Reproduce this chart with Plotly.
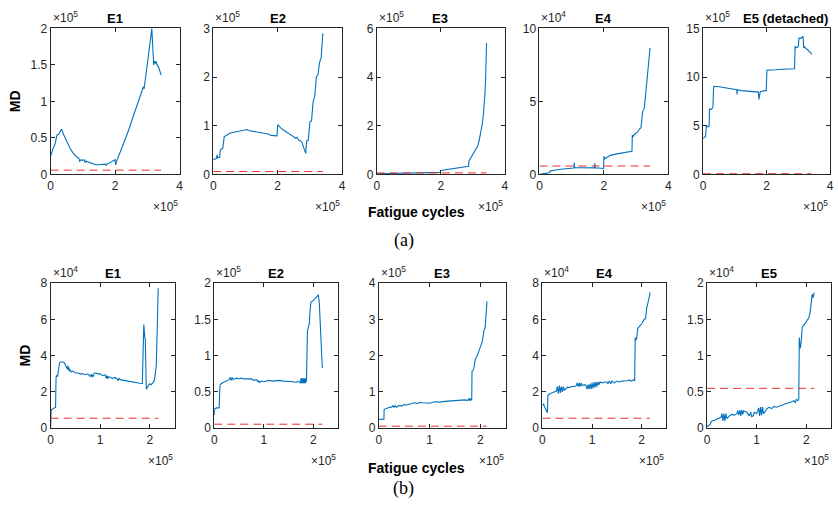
import plotly.graph_objects as go

W, H = 838, 513

# ---------------- data (x in units of 1e5 cycles, y in units of the panel exponent) ----------------
# Row (a)
a1_x = [0, 0.02, 0.05, 0.1, 0.13, 0.17, 0.2, 0.25, 0.3, 0.34, 0.4, 0.5, 0.6, 0.7, 0.8, 0.88, 0.9, 0.95, 1.0, 1.05, 1.07, 1.1, 1.2,
        1.3, 1.4, 1.5, 1.6, 1.7, 1.73, 1.75, 1.8, 1.9, 2.0, 2.02, 2.05, 2.2, 2.4, 2.6, 2.8, 2.85, 2.88, 2.9, 3.0, 3.05,
        3.1, 3.14, 3.17, 3.2, 3.22, 3.25, 3.28, 3.3, 3.35, 3.4, 3.43]
a1_y = [0.25, 0.28, 0.3, 0.38, 0.4, 0.52, 0.54, 0.55, 0.6, 0.62, 0.55, 0.45, 0.36, 0.29, 0.24, 0.22, 0.18, 0.2, 0.19, 0.2, 0.16, 0.18, 0.16,
        0.14, 0.13, 0.13, 0.13, 0.14, 0.12, 0.14, 0.15, 0.18, 0.2, 0.13, 0.18, 0.35, 0.58, 0.84, 1.1, 1.16, 1.2, 1.17, 1.5, 1.62,
        1.85, 2.0, 1.8, 1.5, 1.55, 1.52, 1.55, 1.5, 1.47, 1.4, 1.36]
a1_thr = 0.057

a2_x = [0, 0.05, 0.1, 0.12, 0.13, 0.14, 0.2, 0.22, 0.28, 0.3, 0.34, 0.4, 0.5, 0.6, 0.7, 0.8, 0.9, 1.0, 1.05, 1.1, 1.2, 1.4,
        1.6, 1.7, 1.8, 1.98, 2.0, 2.05, 2.1, 2.2, 2.3, 2.4, 2.5, 2.55, 2.6, 2.65, 2.7, 2.75, 2.8, 2.87, 2.9, 2.95, 3.0,
        3.05, 3.1, 3.15, 3.2, 3.25, 3.3, 3.35, 3.4]
a2_y = [0.3, 0.32, 0.33, 0.4, 0.34, 0.34, 0.35, 0.5, 0.53, 0.55, 0.77, 0.8, 0.84, 0.86, 0.87, 0.88, 0.89, 0.9, 0.92, 0.9, 0.89, 0.87,
        0.85, 0.83, 0.8, 0.79, 1.02, 0.98, 0.95, 0.9, 0.86, 0.82, 0.77, 0.74, 0.76, 0.7, 0.69, 0.66, 0.58, 0.43, 0.69, 0.7, 1.08,
        1.1, 1.5, 1.6, 2.0, 2.05, 2.3, 2.4, 2.9]
a2_thr = 0.057

a3_x = [0, 0.5, 1.0, 1.5, 1.98, 2.0, 2.3, 2.6, 2.87, 2.88, 2.95, 3.0, 3.1, 3.15, 3.2, 3.25, 3.3, 3.33, 3.36, 3.38, 3.4, 3.42, 3.43]
a3_y = [0.02, 0.04, 0.05, 0.07, 0.08, 0.16, 0.22, 0.28, 0.33, 0.55, 0.7, 0.8, 1.0, 1.15, 1.4, 1.7, 2.1, 2.45, 2.9, 3.3, 3.9, 4.7, 5.4]
a3_thr = 0.057

a4_x = [0, 0.25, 0.3, 0.33, 0.5, 0.8, 1.0, 1.07, 1.08, 1.09, 1.2, 1.4, 1.6, 1.71, 1.72, 1.73, 1.9, 1.99, 2.0, 2.02, 2.05, 2.2,
        2.4, 2.6, 2.85, 2.87, 2.88, 2.9, 2.95, 3.0, 3.05, 3.1, 3.15, 3.2, 3.25, 3.3, 3.35, 3.4, 3.43]
a4_y = [0, 0.05, 0.1, 0.22, 0.3, 0.38, 0.42, 0.43, 0.8, 0.45, 0.45, 0.46, 0.45, 0.44, 0.75, 0.45, 0.42, 0.4, 1.25, 1.05, 1.1, 1.3,
        1.4, 1.48, 1.57, 1.57, 2.7, 2.55, 2.75, 2.8, 2.9, 3.1, 3.2, 4.3, 4.5, 5.6, 6.7, 7.6, 8.66]
a4_thr = 0.57

a5_x = [0, 0.05, 0.08, 0.1, 0.18, 0.19, 0.2, 0.27, 0.28, 0.29, 0.31, 0.33, 0.34, 0.5, 0.7, 0.9, 1.0, 1.06, 1.07, 1.08, 1.2, 1.4,
        1.6, 1.74, 1.76, 1.78, 1.8, 1.95, 1.99, 2.01, 2.05, 2.3, 2.5, 2.7, 2.88, 2.9, 2.92, 3.0, 3.02, 3.1, 3.13, 3.15, 3.17,
        3.2, 3.25, 3.3, 3.35, 3.4, 3.41]
a5_y = [3.7, 3.8, 3.9, 4.9, 4.9, 5.0, 6.7, 6.7, 6.8, 6.8, 6.9, 8.9, 9.05, 9.0, 8.9, 8.8, 8.75, 8.7, 8.2, 8.7, 8.6, 8.55,
        8.5, 8.45, 7.7, 8.45, 8.5, 8.6, 8.6, 10.7, 10.7, 10.75, 10.8, 10.8, 10.85, 13.2, 13.0, 13.1, 14.0, 14.0, 14.1, 14.2, 13.0,
        13.1, 12.9, 12.8, 12.6, 12.5, 12.3]
a5_thr = 0.057

# Row (b)
b1_x = [0, 0.003, 0.01, 0.05, 0.1, 0.11, 0.12, 0.14, 0.16, 0.18, 0.2, 0.25, 0.28, 0.3, 0.32, 0.34, 0.35, 0.36, 0.37, 0.38,
        0.4, 0.42, 0.45, 0.5, 0.55, 0.6, 0.65, 0.7, 0.75, 0.8, 0.82, 0.84, 0.85, 0.86, 0.88, 0.9, 0.95, 1.0, 1.05, 1.1, 1.12,
        1.14, 1.15, 1.16, 1.2, 1.25, 1.3, 1.35, 1.36, 1.38, 1.4, 1.45, 1.5, 1.55, 1.6, 1.65, 1.7, 1.75, 1.8, 1.85, 1.87, 1.88,
        1.9, 1.91, 1.93, 1.95, 1.97, 2.0, 2.03, 2.06, 2.09, 2.11, 2.13, 2.15, 2.17]
b1_y = [0, 0.95, 1.0, 1.08, 1.15, 2.8, 2.9, 2.85, 3.3, 3.6, 3.65, 3.65, 3.6, 3.5, 3.4, 3.25, 3.45, 3.2, 3.35, 3.15,
        3.2, 3.1, 3.15, 3.05, 3.05, 3.0, 3.0, 2.95, 3.0, 2.85, 2.98, 2.82, 2.95, 2.85, 3.05, 3.05, 3.0, 3.0, 2.9, 2.95, 2.75,
        2.9, 2.72, 2.85, 2.8, 2.75, 2.8, 2.7, 2.62, 2.75, 2.68, 2.65, 2.62, 2.6, 2.6, 2.55, 2.52, 2.5, 2.48, 2.46, 4.0, 5.72,
        5.0, 4.9, 2.15, 2.3, 2.35, 2.45, 2.4, 2.5, 2.6, 3.0, 3.4, 5.4, 7.73]
b1_thr = 0.55

b2_x = [0, 0.005, 0.01, 0.05, 0.1, 0.11, 0.12, 0.15, 0.2, 0.25, 0.3, 0.32, 0.34, 0.36, 0.38, 0.4, 0.45, 0.5, 0.55, 0.6,
        0.65, 0.7, 0.75, 0.8, 0.85, 0.88, 0.9, 0.92, 0.95, 1.0, 1.1, 1.2, 1.3, 1.4, 1.5, 1.6, 1.65, 1.7, 1.74, 1.75, 1.76,
        1.77, 1.78, 1.79, 1.8, 1.81, 1.82, 1.83, 1.84, 1.85, 1.86, 1.87, 1.88, 1.9, 1.92, 1.93, 1.95, 2.0, 2.05, 2.08, 2.1,
        2.12, 2.14, 2.16, 2.17, 2.18]
b2_y = [0.18, 0.26, 0.27, 0.28, 0.28, 0.5, 0.6, 0.62, 0.64, 0.66, 0.67, 0.7, 0.66, 0.7, 0.67, 0.68, 0.69, 0.68, 0.69, 0.68,
        0.68, 0.67, 0.68, 0.66, 0.67, 0.64, 0.66, 0.63, 0.65, 0.64, 0.66, 0.65, 0.66, 0.65, 0.65, 0.64, 0.63, 0.65, 0.62, 0.69,
        0.62, 0.69, 0.62, 0.69, 0.62, 0.69, 0.62, 0.69, 0.62, 0.68, 0.64, 1.2, 1.34, 1.4, 1.45, 1.6, 1.74, 1.76, 1.8, 1.82, 1.84,
        1.72, 1.45, 1.2, 1.0, 0.83]
b2_thr = 0.055

b3_x = [0, 0.05, 0.1, 0.105, 0.15, 0.2, 0.25, 0.28, 0.3, 0.32, 0.35, 0.4, 0.45, 0.5, 0.55, 0.6, 0.65, 0.7, 0.75, 0.8, 0.85,
        0.9, 0.95, 1.0, 1.1, 1.2, 1.3, 1.4, 1.5, 1.6, 1.7, 1.75, 1.77, 1.79, 1.8, 1.81, 1.83, 1.835, 1.85, 1.87, 1.9, 1.94,
        2.0, 2.04, 2.07, 2.09, 2.1, 2.12, 2.13]
b3_y = [0.24, 0.24, 0.25, 0.52, 0.55, 0.57, 0.58, 0.62, 0.57, 0.62, 0.58, 0.63, 0.61, 0.65, 0.64, 0.66, 0.68, 0.7, 0.68, 0.71,
        0.7, 0.69, 0.68, 0.69, 0.73, 0.72, 0.74, 0.75, 0.76, 0.76, 0.78, 0.76, 0.82, 0.76, 0.82, 0.77, 0.8, 1.57, 1.58, 1.65,
        1.9, 2.01, 2.24, 2.4, 2.7, 2.75, 2.9, 3.2, 3.5]
b3_thr = 0.055

b4_x = [0, 0.02, 0.04, 0.06, 0.08, 0.1, 0.11, 0.13, 0.15, 0.2, 0.25, 0.28, 0.30, 0.32, 0.34, 0.36, 0.38, 0.40, 0.42, 0.44,
        0.5, 0.55, 0.6, 0.65, 0.68, 0.70, 0.72, 0.74, 0.76, 0.78, 0.80, 0.85, 0.88, 0.90, 0.92, 0.94, 0.96, 0.98, 1.00, 1.02,
        1.04, 1.06, 1.08, 1.10, 1.12, 1.14, 1.16, 1.2, 1.25, 1.3, 1.32, 1.35, 1.38, 1.4, 1.45, 1.5, 1.55, 1.6, 1.7, 1.75,
        1.8, 1.85, 1.86, 1.87, 1.88, 1.9, 1.92, 1.95, 2.0, 2.05, 2.08, 2.1, 2.12, 2.14, 2.16, 2.17]
b4_y = [1.25, 1.35, 1.2, 1.05, 0.9, 0.85, 1.8, 1.85, 1.9, 1.95, 2.0, 2.05, 2.3, 1.9, 2.35, 1.95, 2.3, 2.0, 2.3, 2.1,
        2.25, 2.25, 2.3, 2.3, 2.35, 2.5, 2.3, 2.5, 2.3, 2.5, 2.35, 2.4, 2.35, 2.15, 2.4, 2.15, 2.45, 2.15, 2.5, 2.2,
        2.55, 2.25, 2.55, 2.3, 2.55, 2.4, 2.55, 2.5, 2.55, 2.55, 2.45, 2.6, 2.45, 2.6, 2.5, 2.6, 2.55, 2.6, 2.62, 2.65,
        2.6, 2.7, 2.6, 5.0, 4.85, 4.95, 5.5, 5.6, 5.75, 6.0, 6.05, 6.6, 6.8, 7.0, 7.3, 7.5]
b4_thr = 0.55

b5_x = [0, 0.03, 0.06, 0.08, 0.1, 0.15, 0.2, 0.25, 0.28, 0.30, 0.32, 0.34, 0.36, 0.38, 0.40, 0.45, 0.5, 0.55, 0.6,
        0.62, 0.64, 0.66, 0.68, 0.70, 0.72, 0.74, 0.8, 0.85, 0.88, 0.9, 0.93, 0.95, 1.0, 1.04, 1.06, 1.08, 1.10, 1.12,
        1.14, 1.2, 1.25, 1.3, 1.35, 1.4, 1.5, 1.6, 1.7, 1.75, 1.78, 1.8, 1.83, 1.85, 1.86, 1.88, 1.9, 1.92, 1.95, 2.0,
        2.05, 2.08, 2.1, 2.12, 2.14, 2.16]
b5_y = [0.02, 0.03, 0.05, 0.08, 0.1, 0.11, 0.13, 0.14, 0.15, 0.2, 0.1, 0.2, 0.1, 0.2, 0.13, 0.17, 0.19, 0.18, 0.2,
        0.24, 0.18, 0.25, 0.17, 0.25, 0.19, 0.24, 0.22, 0.17, 0.22, 0.16, 0.17, 0.22, 0.2, 0.28, 0.17, 0.29, 0.18, 0.29,
        0.2, 0.26, 0.29, 0.27, 0.3, 0.29, 0.32, 0.34, 0.36, 0.38, 0.35, 0.4, 0.38, 0.4, 1.25, 1.1, 1.2, 1.4, 1.42, 1.47,
        1.52, 1.6, 1.7, 1.85, 1.8, 1.87]
b5_thr = 0.55

titles_a = ["E1", "E2", "E3", "E4", "E5 (detached)"]
titles_b = ["E1", "E2", "E3", "E4", "E5"]
exp_a = ["5", "5", "5", "4", "5"]
exp_b = ["4", "5", "5", "4", "4"]
yticks_a = [[0, 0.5, 1, 1.5, 2], [0, 1, 2, 3], [0, 2, 4, 6], [0, 5, 10], [0, 5, 10, 15]]
yticks_b = [[0, 2, 4, 6, 8], [0, 0.5, 1, 1.5, 2], [0, 1, 2, 3, 4], [0, 2, 4, 6, 8], [0, 0.5, 1, 1.5, 2]]
xticks_a = [0, 2, 4]
xticks_b = [0, 1, 2]

# ---------------- layout geometry (pixels) ----------------
box_a = [(48, 178), (212, 342), (377, 506), (541, 671), (706, 834)]
box_b = [(48, 173), (213, 338), (379, 507), (544, 669), (710, 835)]
title_cx_a = [113, 277, 441, 606, 789]
ytop_a, ybot_a = 22, 172
ytop_b, ybot_b = 284, 433

series = [
    (a1_x, a1_y, a1_thr), (a2_x, a2_y, a2_thr), (a3_x, a3_y, a3_thr), (a4_x, a4_y, a4_thr), (a5_x, a5_y, a5_thr),
    (b1_x, b1_y, b1_thr), (b2_x, b2_y, b2_thr), (b3_x, b3_y, b3_thr), (b4_x, b4_y, b4_thr), (b5_x, b5_y, b5_thr),
]

BLUE = "#0072BD"
RED = "#E8322A"
AX = "#262626"
FONT = "Liberation Sans, Arial, sans-serif"

fig = go.Figure()
layout = {}
annotations = []


def fmt(v):
    return str(int(v)) if float(v).is_integer() else str(v)


for i, (xs, ys, thr) in enumerate(series):
    row = 0 if i < 5 else 1
    j = i % 5
    n = i + 1
    xa = "x" if n == 1 else f"x{n}"
    ya = "y" if n == 1 else f"y{n}"
    (l, r) = (box_a if row == 0 else box_b)[j]
    top, bot = (ytop_a, ybot_a) if row == 0 else (ytop_b, ybot_b)
    yt = (yticks_a if row == 0 else yticks_b)[j]
    xt = xticks_a if row == 0 else xticks_b
    xmax = 4 if row == 0 else 2.5
    ymax = yt[-1]

    fig.add_trace(go.Scatter(x=xs, y=ys, mode="lines", line=dict(color=BLUE, width=1.1),
                             xaxis=xa, yaxis=ya, showlegend=False, hoverinfo="skip"))
    fig.add_trace(go.Scatter(x=[0, xs[-1]], y=[thr, thr], mode="lines",
                             line=dict(color=RED, width=1, dash="8px,5px"),
                             xaxis=xa, yaxis=ya, showlegend=False, hoverinfo="skip"))

    common = dict(showline=True, linecolor=AX, linewidth=1, mirror="ticks", ticks="inside",
                  ticklen=4, tickcolor=AX, tickwidth=1, showgrid=False, zeroline=False,
                  tickfont=dict(family=FONT, size=12, color=AX))
    layout["xaxis" if n == 1 else f"xaxis{n}"] = dict(
        domain=[l / W, r / W], range=[0, xmax], anchor=ya,
        tickvals=xt, ticktext=[fmt(v) for v in xt], **common)
    layout["yaxis" if n == 1 else f"yaxis{n}"] = dict(
        domain=[1 - bot / H, 1 - top / H], range=[0, ymax], anchor=xa,
        tickvals=yt, ticktext=[fmt(v) for v in yt], **common)

    # title
    title = (titles_a if row == 0 else titles_b)[j]
    cx = title_cx_a[j] if row == 0 else (l + r) / 2
    annotations.append(dict(x=cx / W, y=1 - (top - 10) / H, xref="paper", yref="paper",
                            text=f"<b>{title}</b>", showarrow=False, xanchor="center", yanchor="middle",
                            font=dict(family=FONT, size=13, color="black")))
    ey = (exp_a if row == 0 else exp_b)[j]
    # y exponent (top-left)
    annotations.append(dict(x=l / W, y=1 - (top - 1) / H, xref="paper", yref="paper",
                            text=f"×10<sup>{ey}</sup>", showarrow=False, xanchor="left", yanchor="bottom",
                            font=dict(family=FONT, size=12, color=AX)))
    # x exponent (bottom-right)
    annotations.append(dict(x=r / W, y=1 - (bot + 33) / H, xref="paper", yref="paper",
                            text="×10<sup>5</sup>", showarrow=False, xanchor="right", yanchor="middle",
                            font=dict(family=FONT, size=12, color=AX)))

# shared labels
for yc, xc in [((ytop_a + ybot_a) / 2, 12), ((ytop_b + ybot_b) / 2, 22)]:
    annotations.append(dict(x=xc / W, y=1 - yc / H, xref="paper", yref="paper", text="<b>MD</b>",
                            textangle=-90, showarrow=False, xanchor="center", yanchor="middle",
                            font=dict(family=FONT, size=14, color="black")))
for yc in [211, 474]:
    annotations.append(dict(x=417 / W, y=1 - yc / H, xref="paper", yref="paper", text="<b>Fatigue cycles</b>",
                            showarrow=False, xanchor="center", yanchor="middle",
                            font=dict(family=FONT, size=14, color="black")))
for yc, lab in [(240, "(a)"), (495, "(b)")]:
    annotations.append(dict(x=404 / W, y=1 - yc / H, xref="paper", yref="paper", text=lab,
                            showarrow=False, xanchor="center", yanchor="middle",
                            font=dict(family="Liberation Serif, DejaVu Serif, serif", size=18, color="black")))

fig.update_layout(width=W, height=H, margin=dict(l=0, r=0, t=0, b=0),
                  paper_bgcolor="white", plot_bgcolor="white",
                  annotations=annotations, **layout)

fig.write_html("out.html", config={"displayModeBar": False},
               post_script="document.body.style.margin='0';document.body.style.overflow='hidden';")
